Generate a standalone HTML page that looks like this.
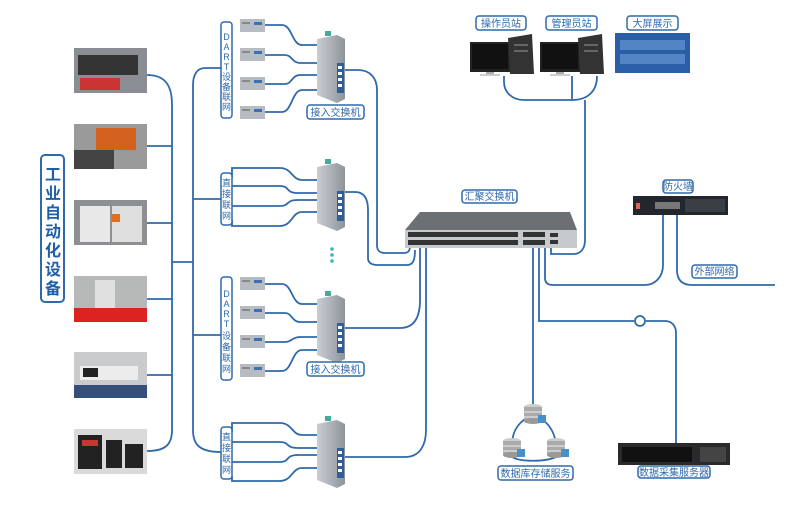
<!DOCTYPE html>
<html><head><meta charset="utf-8"><style>
body{margin:0;width:800px;height:500px;background:#fff;overflow:hidden;font-family:"Liberation Sans","Noto Sans CJK SC",sans-serif}
svg text{font-family:"Liberation Sans","Noto Sans CJK SC",sans-serif}
</style></head><body>
<svg width="800" height="500" viewBox="0 0 800 500">
<defs>
<linearGradient id="sw" x1="0" x2="1"><stop offset="0" stop-color="#c9ced3"/><stop offset="1" stop-color="#8d949a"/></linearGradient>
<g id="conv"><rect x="0" y="0" width="25" height="13" fill="#b7bcc2"/><rect x="14" y="3" width="8" height="3" fill="#3d6fb3"/><rect x="2" y="3" width="8" height="2" fill="#888"/></g>
<g id="esw"><polygon points="0,4 20,0 28,4 28,64 20,68 0,60" fill="url(#sw)"/><rect x="8" y="-4" width="6" height="5" fill="#4a9"/><rect x="20" y="28" width="7" height="30" fill="#2f5e9c"/><g fill="#fff"><rect x="21" y="31" width="4" height="3"/><rect x="21" y="37" width="4" height="3"/><rect x="21" y="43" width="4" height="3"/><rect x="21" y="49" width="4" height="3"/></g></g>
<g id="pc"><rect x="0" y="4" width="40" height="30" fill="#222"/><rect x="2" y="6" width="36" height="25" fill="#111"/><rect x="16" y="34" width="8" height="2" fill="#aaa"/><rect x="10" y="36" width="20" height="2" fill="#ccc"/><polygon points="38,0 62,-4 64,36 40,36" fill="#333"/><rect x="44" y="6" width="14" height="2" fill="#666"/><rect x="44" y="12" width="14" height="2" fill="#666"/></g>
<g id="db"><ellipse cx="0" cy="-6" rx="9" ry="3" fill="#ccc"/><rect x="-9" y="-6" width="18" height="14" fill="#aaa"/><ellipse cx="0" cy="8" rx="9" ry="3" fill="#999"/><line x1="-9" y1="-1" x2="9" y2="-1" stroke="#eee"/><line x1="-9" y1="4" x2="9" y2="4" stroke="#eee"/><rect x="5" y="2" width="8" height="8" fill="#4a90c8"/></g>
</defs>
<g fill="none" stroke="#2f69ab" stroke-width="1.8">
<path d="M147,75 C165,75 172,85 172,105 L172,430 C172,445 165,451 147,451"/>
<path d="M147,146 H172 M147,223 H172 M147,299 H172 M147,375 H172 M172,262 H193"/>
<path d="M221,68 H205 C197,68 193,75 193,85 L193,430 C193,445 200,452 221,452"/>
<path d="M193,199 H221 M193,335 H221"/>
<path d="M265,25 H282 C292,25 292,45 302,45 H318 M265,55 H285 C292,55 292,63 300,63 H318 M265,84 H285 C292,84 292,75 300,75 H318 M265,112 H282 C292,112 292,90 302,90 H318"/>
<path d="M265,284 H282 C292,284 292,304 302,304 H318 M265,313 H285 C292,313 292,322 300,322 H318 M265,342 H285 C292,342 292,337 300,337 H318 M265,371 H282 C292,371 292,350 302,350 H318"/>
<path d="M232,178 V168 H280 C292,168 292,180 302,180 H318 M232,186 H280 C290,186 285,193 298,193 H318 M232,206 H280 C290,206 285,200 298,200 H318 M232,220 V226 H280 C292,226 292,212 302,212 H318"/>
<path d="M232,432 V423 H280 C292,423 292,435 302,435 H318 M232,442 H280 C290,442 285,448 298,448 H318 M232,462 H280 C290,462 285,455 298,455 H318 M232,476 V481 H280 C292,481 292,468 302,468 H318"/>
<path d="M345,70 H358 C370,70 377,78 377,90 V245 C377,251 380,253 385,253 H404 C408,253 410,251 410,246"/>
<path d="M345,192 H355 C365,192 368,200 368,210 V258 C368,263 372,265 378,265 H407 C412,265 415,262 415,250"/>
<path d="M345,328 H400 C414,328 420,318 420,300 V248"/>
<path d="M345,457 H405 C420,457 426,445 426,430 V248"/>
<path d="M504,76 V82 C504,92 512,100 524,100 H572 C587,100 597,92 597,76 M572,76 V100 M585,100 V240 C585,248 581,254 574,254 H551 V248"/>
<path d="M545,248 V278 C545,283 548,285 553,285 H645 C655,285 663,277 663,265 V215"/>
<path d="M677,215 V270 C677,280 682,285 692,285 H775"/>
<path d="M539,248 V321 H634 M646,321 H665 C672,321 676,326 676,333 V443"/>
<circle cx="640" cy="321" r="5" fill="#fff"/>
<path d="M533,248 V404"/>
<path d="M533,415 C545,418 555,430 556,445 M533,415 C520,420 512,430 512,445 M512,457 C520,462 545,462 556,457"/>
</g>
<rect x="74" y="48" width="73" height="45" fill="#8a8d94"/><rect x="78" y="55" width="60" height="20" fill="#333"/><rect x="80" y="78" width="40" height="12" fill="#c33"/>
<rect x="74" y="124" width="73" height="45" fill="#9a9a9a"/><rect x="96" y="128" width="40" height="22" fill="#d4601e"/><rect x="74" y="150" width="40" height="19" fill="#444"/>
<rect x="74" y="200" width="73" height="45" fill="#8d8f93"/><rect x="80" y="206" width="30" height="36" fill="#e8e8e8"/><rect x="112" y="206" width="30" height="36" fill="#dedede"/><rect x="112" y="214" width="8" height="8" fill="#e07020"/>
<rect x="74" y="276" width="73" height="46" fill="#b6b9b8"/><rect x="74" y="308" width="73" height="14" fill="#d22"/><rect x="95" y="280" width="20" height="28" fill="#e0e0e0"/>
<rect x="74" y="352" width="73" height="46" fill="#c9cbcc"/><rect x="80" y="366" width="58" height="14" fill="#ececec"/><rect x="83" y="368" width="15" height="9" fill="#222"/><rect x="74" y="385" width="73" height="13" fill="#354f7a"/>
<rect x="74" y="429" width="73" height="45" fill="#dadada"/><rect x="78" y="435" width="24" height="34" fill="#222"/><rect x="106" y="440" width="16" height="28" fill="#222"/><rect x="125" y="444" width="18" height="24" fill="#222"/><rect x="82" y="440" width="16" height="6" fill="#c33"/>
<rect x="41" y="155" width="23" height="147" rx="4" fill="#fff" stroke="#2f69ab" stroke-width="2"/>
<text font-size="16" font-weight="bold" fill="#1f5fa8" text-anchor="middle"><tspan x="53" y="180">工</tspan><tspan x="53" y="199">业</tspan><tspan x="53" y="218">自</tspan><tspan x="53" y="237">动</tspan><tspan x="53" y="256">化</tspan><tspan x="53" y="275">设</tspan><tspan x="53" y="294">备</tspan></text>
<g fill="#fff" stroke="#2f69ab" stroke-width="1.5">
<rect x="221" y="22" width="11" height="96" rx="3"/><rect x="221" y="173" width="11" height="52" rx="3"/><rect x="221" y="277" width="11" height="103" rx="3"/><rect x="221" y="427" width="11" height="52" rx="3"/>
</g>
<g font-size="9" fill="#2f69ab" text-anchor="middle">
<text><tspan x="226.5" y="40">D</tspan><tspan x="226.5" y="50">A</tspan><tspan x="226.5" y="60">R</tspan><tspan x="226.5" y="70">T</tspan><tspan x="226.5" y="80">设</tspan><tspan x="226.5" y="90">备</tspan><tspan x="226.5" y="100">联</tspan><tspan x="226.5" y="110">网</tspan></text>
<text><tspan x="226.5" y="186">直</tspan><tspan x="226.5" y="197">接</tspan><tspan x="226.5" y="208">联</tspan><tspan x="226.5" y="219">网</tspan></text>
<text><tspan x="226.5" y="297">D</tspan><tspan x="226.5" y="307">A</tspan><tspan x="226.5" y="317">R</tspan><tspan x="226.5" y="327">T</tspan><tspan x="226.5" y="339">设</tspan><tspan x="226.5" y="350">备</tspan><tspan x="226.5" y="361">联</tspan><tspan x="226.5" y="372">网</tspan></text>
<text><tspan x="226.5" y="440">直</tspan><tspan x="226.5" y="451">接</tspan><tspan x="226.5" y="462">联</tspan><tspan x="226.5" y="473">网</tspan></text>
</g>
<use href="#conv" x="240" y="19"/><use href="#conv" x="240" y="48"/><use href="#conv" x="240" y="77"/><use href="#conv" x="240" y="106"/>
<use href="#conv" x="240" y="277"/><use href="#conv" x="240" y="306"/><use href="#conv" x="240" y="335"/><use href="#conv" x="240" y="364"/>
<use href="#esw" x="317" y="35"/><use href="#esw" x="317" y="163"/><use href="#esw" x="317" y="295"/><use href="#esw" x="317" y="420"/>
<g fill="#36b5c9"><circle cx="332" cy="249" r="1.8"/><circle cx="332" cy="255" r="1.8"/><circle cx="332" cy="261" r="1.8"/></g>
<g fill="#fff" stroke="#2f69ab" stroke-width="1.5">
<rect x="307" y="105" width="57" height="14" rx="3"/><rect x="307" y="362" width="57" height="14" rx="3"/>
<rect x="462" y="190" width="55" height="13" rx="3"/>
<rect x="476" y="16" width="50" height="14" rx="3"/><rect x="546" y="16" width="51" height="14" rx="3"/><rect x="627" y="16" width="51" height="14" rx="3"/>
<rect x="663" y="180" width="30" height="13" rx="3"/><rect x="692" y="265" width="45" height="13" rx="3"/>
<rect x="498" y="466" width="75" height="14" rx="3"/><rect x="638" y="466" width="72" height="12" rx="3"/>
</g>
<g font-size="10" fill="#2f69ab" text-anchor="middle">
<text x="335.5" y="116">接入交换机</text><text x="335.5" y="373">接入交换机</text>
<text x="489.5" y="200">汇聚交换机</text>
<text x="501" y="27">操作员站</text><text x="571.5" y="27">管理员站</text><text x="652.5" y="27">大屏展示</text>
<text x="678" y="190">防火墙</text><text x="714.5" y="275">外部网络</text>
<text x="535.5" y="477">数据库存储服务</text><text x="674" y="476">数据采集服务器</text>
</g>
<polygon points="405,230 420,212 570,212 577,230" fill="#6c6f74"/>
<rect x="405" y="230" width="172" height="18" fill="#c7cacd"/>
<g fill="#333">
<rect x="408" y="232" width="110" height="5"/><rect x="408" y="240" width="110" height="5"/><rect x="523" y="232" width="22" height="5"/><rect x="523" y="240" width="22" height="5"/><rect x="550" y="233" width="8" height="4"/><rect x="550" y="240" width="8" height="4"/>
</g>
<use href="#pc" x="470" y="38"/><use href="#pc" x="540" y="38"/>
<rect x="615" y="33" width="75" height="40" fill="#2a5fa8"/><rect x="620" y="40" width="65" height="10" fill="#6f9fd8" opacity=".6"/><rect x="620" y="54" width="65" height="10" fill="#6f9fd8" opacity=".6"/>
<rect x="633" y="196" width="95" height="19" fill="#23272d"/><rect x="636" y="203" width="4" height="6" fill="#d65"/><rect x="655" y="202" width="25" height="7" fill="#777"/><rect x="685" y="199" width="40" height="13" fill="#3a3f46"/>
<rect x="618" y="443" width="112" height="22" fill="#2a2a2c"/><rect x="622" y="447" width="70" height="15" fill="#111"/><rect x="700" y="447" width="26" height="15" fill="#444"/>
<use href="#db" x="533" y="413"/><use href="#db" x="512" y="447"/><use href="#db" x="556" y="447"/>
</svg>
</body></html>
